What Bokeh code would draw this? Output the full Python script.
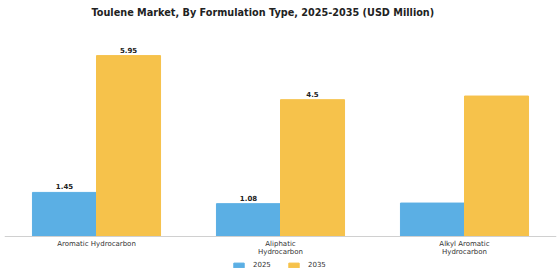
from bokeh.plotting import figure
from bokeh.models import ColumnDataSource, FactorRange, Legend, LegendItem, Title
from bokeh.transform import dodge
from bokeh.embed import file_html
from bokeh.resources import INLINE
from bokeh.core.properties import value

categories = ["Aromatic Hydrocarbon", "Aliphatic\nHydrocarbon", "Alkyl Aromatic\nHydrocarbon"]
v2025 = [1.45, 1.08, 1.10]
v2035 = [5.95, 4.50, 4.62]
lab2025 = ["1.45", "1.08", ""]
lab2035 = ["5.95", "4.5", ""]
series = ["2025", "2035"]

BLUE = "#5BAFE4"
YELLOW = "#F6C24B"

src = ColumnDataSource(dict(cat=categories, v25=v2025, v35=v2035, l25=lab2025, l35=lab2035))

p = figure(x_range=FactorRange(*categories, range_padding=0.0), y_range=(-1.48, 6.94),
           frame_width=552, frame_height=256, output_backend="svg", toolbar_location=None,
           min_border_left=4, min_border_right=4, min_border_top=0, min_border_bottom=0)

w = 0.348
r1 = p.vbar(x=dodge("cat", -w / 2, range=p.x_range), top="v25", width=w, source=src, color=BLUE)
r2 = p.vbar(x=dodge("cat", w / 2, range=p.x_range), top="v35", width=w, source=src, color=YELLOW)

for xo, col in ((-w / 2, "v25"), (w / 2, "v35")):
    p.text(x=dodge("cat", xo, range=p.x_range), y=col, text="l" + col[1:], source=src,
           text_align="center", text_baseline="bottom", y_offset=-3, text_font_size="7px",
           text_font_style="bold", text_color="#222222", text_font=value("DejaVu Sans"))

p.yaxis.visible = False
p.grid.visible = False
p.outline_line_color = None
p.xaxis.fixed_location = 0
p.xaxis.axis_line_color = "#d0d0d0"
p.xaxis.major_tick_line_color = None
p.xaxis.minor_tick_line_color = None
p.xaxis.major_tick_out = 0
p.xaxis.major_tick_in = 0
p.xaxis.major_label_text_font_size = "7px"
p.xaxis.major_label_text_color = "#333333"
p.xaxis.major_label_text_font = "DejaVu Sans"
p.xaxis.major_label_text_line_height = 1.1
p.xaxis.major_label_standoff = 3

t = Title(text="Toulene Market, By Formulation Type, 2025-2035 (USD Million)",
          align="left", vertical_align="top", text_font_size="9.7px", text_font_style="bold",
          text_color="#222222", text_font="DejaVu Sans", offset=87, standoff=12)
p.add_layout(t, "above")

legend = Legend(items=[LegendItem(label=series[0], renderers=[r1]), LegendItem(label=series[1], renderers=[r2])],
                orientation="horizontal", border_line_color=None, location="bottom_center",
                label_text_font_size="7px", label_text_color="#333333", label_text_font="DejaVu Sans",
                glyph_width=13, glyph_height=6, label_standoff=8, spacing=14, padding=1, margin=12,
                label_height=8, background_fill_alpha=0)
p.add_layout(legend, "center")

open("out.html", "w").write(file_html(p, INLINE))
